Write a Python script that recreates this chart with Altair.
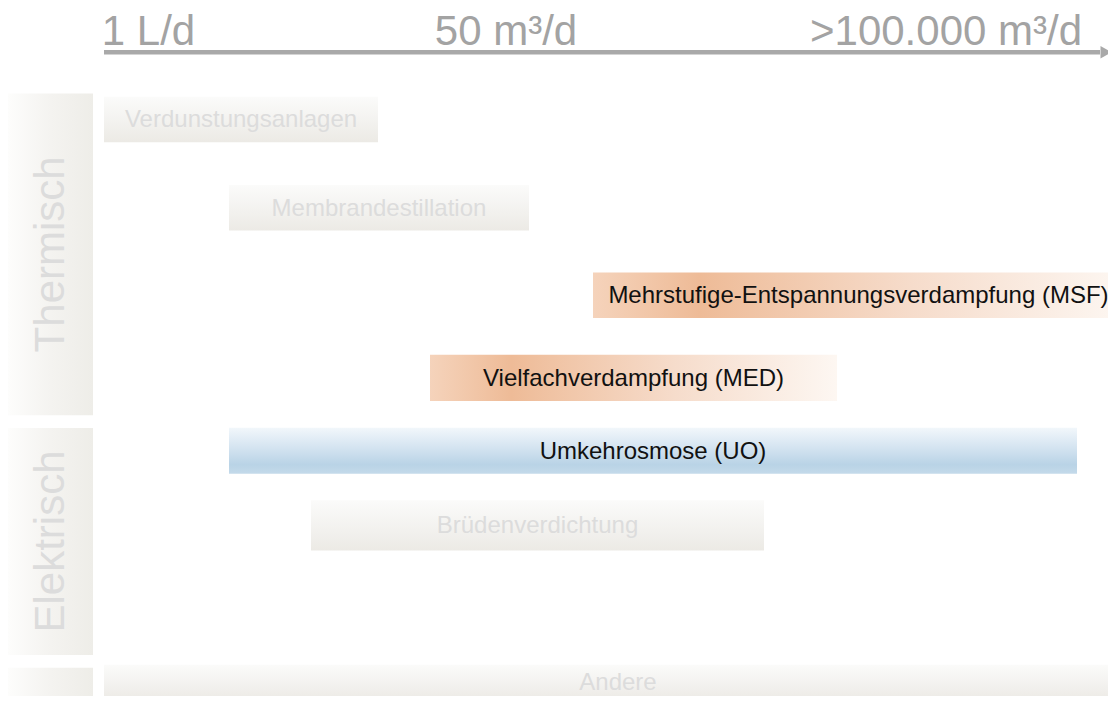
import altair as alt
import pandas as pd

# --- Data (schematic capacity scale 0..100, rows top-down) ---
verfahren = [
    "Verdunstungsanlagen",
    "Membrandestillation",
    "Mehrstufige-Entspannungsverdampfung (MSF)",
    "Vielfachverdampfung (MED)",
    "Umkehrosmose (UO)",
    "Brüdenverdichtung",
    "Andere",
]
kap_von = [0, 12.5, 48.9, 32.6, 12.5, 20.7, 0]
kap_bis = [27.4, 42.5, 102.0, 73.3, 97.3, 66.0, 102.8]
zeile = [0.0, 1.09, 2.17, 3.19, 4.09, 5.01, 6.95]
dicke = [0.56, 0.56, 0.56, 0.57, 0.57, 0.62, 0.44]
stil = ["grau", "grau", "orange", "orange", "blau", "grau", "grau"]

gruppen = ["Thermisch", "Elektrisch", ""]
gruppe_von = [-0.32, 3.81, 6.77]
gruppe_bis = [3.65, 6.61, 7.6]
gruppe_x = [-9.6, -1.1]

achse_labels = ["1 L/d", "50 m³/d", ">100.000 m³/d"]
achse_pos = [4.45, 40.2, 84.2]
achse_zeile = -0.83
achse_label_zeile = -0.92
achse_bereich = [0, 99.6]
pfeil_pos = 100.2

df = pd.DataFrame({
    "verfahren": verfahren, "von": kap_von, "bis": kap_bis,
    "zeile": zeile, "dicke": dicke, "stil": stil,
})
df["oben"] = df["zeile"] - df["dicke"] / 2
df["unten"] = df["zeile"] + df["dicke"] / 2
df["mitte"] = (df["von"] + df["bis"]) / 2

gdf = pd.DataFrame({
    "gruppe": gruppen, "von": gruppe_von, "bis": gruppe_bis,
    "x0": [gruppe_x[0]] * 3, "x1": [gruppe_x[1]] * 3,
})
gdf["mitte"] = (gdf["von"] + gdf["bis"]) / 2
gdf["xm"] = (gdf["x0"] + gdf["x1"]) / 2

adf = pd.DataFrame({"label": achse_labels, "pos": achse_pos,
                    "zeile": [achse_label_zeile] * 3})
ldf = pd.DataFrame({"von": [achse_bereich[0]], "bis": [achse_bereich[1]],
                    "zeile": [achse_zeile], "pfeil": [pfeil_pos]})

W, H = 1100, 688
xs = alt.Scale(domain=[-9.6, 100.4], nice=False, zero=False)
ys = alt.Scale(domain=[-1.3765, -1.3765 + H / 81.0], nice=False, zero=False, reverse=True)
FONT = "Liberation Sans"


def lin(stops, horizontal):
    return alt.LinearGradient(
        gradient="linear",
        stops=[alt.GradientStop(color=c, offset=o) for c, o in stops],
        x1=0, y1=0, x2=1 if horizontal else 0, y2=0 if horizontal else 1,
    )


grau = lin([("#fbfbfa", 0), ("#f2f1ee", 0.6), ("#eceae5", 1)], False)
orange = lin([("#f5d3bb", 0), ("#eebb97", 0.2), ("#f6dccb", 0.6), ("#fdf7f2", 1)], True)
blau = lin([("#f2f7fb", 0), ("#d3e3f0", 0.45), ("#b9d3e6", 0.8), ("#c4daea", 1)], False)
band = lin([("#fdfdfc", 0), ("#f4f3f0", 0.5), ("#eeede8", 1)], True)

bands = alt.Chart(gdf).mark_rect(fill=band, clip=True).encode(
    x=alt.X("x0:Q", scale=xs, axis=None), x2="x1:Q",
    y=alt.Y("von:Q", scale=ys, axis=None), y2="bis:Q",
)
band_text = alt.Chart(gdf).mark_text(
    angle=270, font=FONT, fontSize=42, color="#dcdcdc", baseline="middle", align="center"
).encode(
    x=alt.X("xm:Q", scale=xs, axis=None),
    y=alt.Y("mitte:Q", scale=ys, axis=None),
    text="gruppe:N",
)

base = alt.Chart(df)


def bars(s, fill):
    return base.transform_filter(alt.datum.stil == s).mark_rect(fill=fill, clip=True).encode(
        x=alt.X("von:Q", scale=xs, axis=None), x2="bis:Q",
        y=alt.Y("oben:Q", scale=ys, axis=None), y2="unten:Q",
    )


labels = base.mark_text(font=FONT, fontSize=24, baseline="middle", align="center", dy=1).encode(
    x=alt.X("mitte:Q", scale=xs, axis=None),
    y=alt.Y("zeile:Q", scale=ys, axis=None),
    text="verfahren:N",
    color=alt.Color("stil:N", scale=alt.Scale(domain=["grau", "orange", "blau"],
                                              range=["#dcdcdc", "#111111", "#111111"]),
                    legend=None),
)

achse = alt.Chart(ldf).mark_rule(color="#a9a9a9", strokeWidth=4.5).encode(
    x=alt.X("von:Q", scale=xs, axis=None), x2="bis:Q",
    y=alt.Y("zeile:Q", scale=ys, axis=None),
)
pfeil = alt.Chart(ldf).mark_point(shape="triangle-right", filled=True, opacity=1,
                                  color="#a9a9a9", size=160).encode(
    x=alt.X("pfeil:Q", scale=xs, axis=None),
    y=alt.Y("zeile:Q", scale=ys, axis=None),
)
achse_text = alt.Chart(adf).mark_text(
    font=FONT, fontSize=42, color="#a3a3a3", baseline="alphabetic", align="center"
).encode(
    x=alt.X("pos:Q", scale=xs, axis=None),
    y=alt.Y("zeile:Q", scale=ys, axis=None),
    text="label:N",
)

chart = alt.layer(
    bands, band_text,
    bars("grau", grau), bars("orange", orange), bars("blau", blau),
    labels, achse, pfeil, achse_text,
).properties(
    width=W, height=H, padding=0,
    autosize=alt.AutoSizeParams(type="none"),
    background="white",
).configure_view(stroke=None)

chart.save("out.html", embed_options={"renderer": "svg", "actions": False})
